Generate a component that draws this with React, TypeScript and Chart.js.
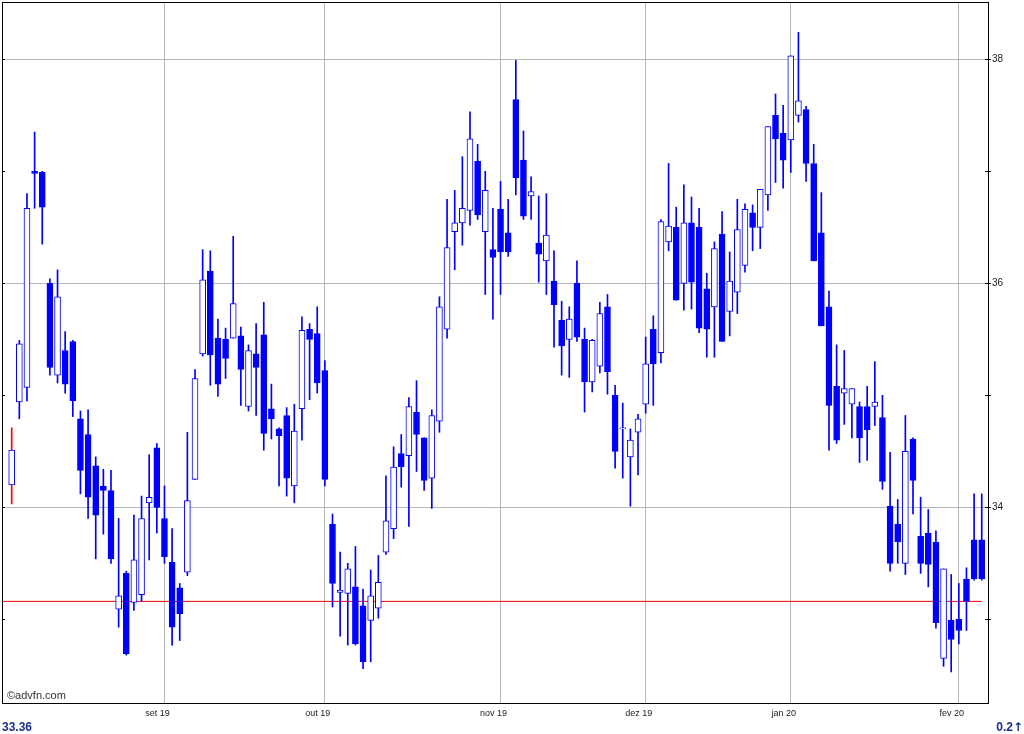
import React, { useEffect, useRef } from "react";
import { Chart, registerables } from "chart.js";

Chart.register(...registerables);

// ---- data -----------------------------------------------------------------
const dates = [
  "2019-08-05","2019-08-06","2019-08-07","2019-08-08","2019-08-09","2019-08-12","2019-08-13","2019-08-14","2019-08-15","2019-08-16",
  "2019-08-19","2019-08-20","2019-08-21","2019-08-22","2019-08-23","2019-08-26","2019-08-27","2019-08-28","2019-08-29","2019-08-30",
  "2019-09-02","2019-09-03","2019-09-04","2019-09-05","2019-09-06","2019-09-09","2019-09-10","2019-09-11","2019-09-12","2019-09-13",
  "2019-09-16","2019-09-17","2019-09-18","2019-09-19","2019-09-20","2019-09-23","2019-09-24","2019-09-25","2019-09-26","2019-09-27",
  "2019-09-30","2019-10-01","2019-10-02","2019-10-03","2019-10-04","2019-10-07","2019-10-08","2019-10-09","2019-10-10","2019-10-11",
  "2019-10-14","2019-10-15","2019-10-16","2019-10-17","2019-10-18","2019-10-21","2019-10-22","2019-10-23","2019-10-24","2019-10-25",
  "2019-10-28","2019-10-29","2019-10-30","2019-10-31","2019-11-01","2019-11-04","2019-11-05","2019-11-06","2019-11-07","2019-11-08",
  "2019-11-11","2019-11-12","2019-11-13","2019-11-14","2019-11-18","2019-11-19","2019-11-21","2019-11-22","2019-11-25","2019-11-26",
  "2019-11-27","2019-11-28","2019-11-29","2019-12-02","2019-12-03","2019-12-04","2019-12-05","2019-12-06","2019-12-09","2019-12-10",
  "2019-12-11","2019-12-12","2019-12-13","2019-12-16","2019-12-17","2019-12-18","2019-12-19","2019-12-20","2019-12-23","2019-12-26",
  "2019-12-27","2019-12-30","2020-01-02","2020-01-03","2020-01-06","2020-01-07","2020-01-08","2020-01-09","2020-01-10","2020-01-13",
  "2020-01-14","2020-01-15","2020-01-16","2020-01-17","2020-01-20","2020-01-21","2020-01-22","2020-01-23","2020-01-24","2020-01-27",
  "2020-01-28","2020-01-29","2020-01-30","2020-01-31","2020-02-03","2020-02-04","2020-02-05","2020-02-06",
];

const opens = [
  34.20,34.94,35.07,37.00,36.99,36.00,35.18,35.40,35.48,34.79,
  34.65,34.37,34.19,34.15,33.09,33.41,33.15,33.22,34.04,34.53,
  33.90,33.51,33.28,33.42,34.25,35.37,36.11,35.51,35.50,35.51,
  35.53,34.90,35.37,35.54,34.88,34.70,34.82,34.19,34.88,35.59,
  35.55,35.22,33.85,33.24,33.23,33.29,33.12,32.99,33.10,33.60,
  33.81,34.48,34.46,34.85,34.62,34.26,34.77,35.59,36.46,36.54,
  36.65,37.09,36.46,36.30,36.66,36.45,37.64,37.10,36.78,36.36,
  36.20,36.02,35.67,35.50,36.00,35.50,35.12,35.26,35.79,35.00,
  34.70,34.45,34.67,34.92,35.59,35.38,36.37,36.50,36.00,36.54,
  36.50,35.95,35.79,36.44,35.75,35.92,36.16,36.63,36.50,36.79,
  37.50,37.34,37.28,37.50,37.55,37.07,36.45,35.79,35.08,35.02,
  34.92,34.90,34.90,34.90,34.80,34.01,33.85,33.50,34.61,33.74,
  33.77,33.69,32.65,32.99,33.00,33.36,33.71,33.71,
];

const highs = [
  34.71,35.49,36.80,37.35,37.00,36.04,36.12,35.57,35.49,34.86,
  34.87,34.45,34.34,34.33,33.90,33.43,33.93,34.10,34.47,34.57,
  34.19,33.81,33.32,34.67,35.23,36.30,36.29,35.68,35.60,36.42,
  35.61,35.45,35.64,35.83,35.10,34.71,34.89,34.92,35.70,35.64,
  35.79,35.31,33.94,33.60,33.50,33.65,33.27,33.44,33.57,34.28,
  34.54,34.65,34.98,35.13,34.62,34.87,35.88,36.75,36.83,37.13,
  37.53,37.24,37.00,36.67,36.91,36.75,37.99,37.36,36.95,36.78,
  36.80,36.29,35.84,35.79,36.20,35.60,35.50,35.83,35.90,35.09,
  34.93,34.70,34.83,35.52,35.71,36.57,37.07,36.68,36.88,36.77,
  36.67,36.09,36.37,36.64,36.28,36.75,36.71,36.70,36.84,37.40,
  37.69,37.59,38.03,38.24,37.58,37.24,36.81,35.93,35.45,35.40,
  35.06,34.94,35.08,35.30,35.00,34.49,34.07,34.82,34.62,34.09,
  33.98,33.79,33.45,33.40,33.32,33.46,34.12,34.12,
];

const lows = [
  34.03,34.79,34.95,36.67,36.35,35.18,35.11,35.02,34.81,34.12,
  33.90,33.54,33.76,33.50,32.93,32.68,33.08,33.16,33.53,33.77,
  33.50,32.77,32.81,33.39,34.25,35.35,35.09,34.99,35.15,35.51,
  34.91,34.86,34.82,34.51,34.61,34.19,34.10,34.04,34.60,34.96,
  35.02,34.19,33.11,32.85,32.77,32.77,32.56,32.62,33.01,33.58,
  33.72,34.18,33.83,34.32,34.15,33.99,34.67,35.51,36.12,36.34,
  36.52,36.57,35.90,35.68,35.90,36.24,36.79,36.57,36.57,36.01,
  35.90,35.43,35.18,35.16,35.48,34.85,35.03,35.20,35.01,34.35,
  34.26,34.01,34.29,34.84,34.91,35.29,36.29,35.85,35.76,35.77,
  35.56,35.34,35.34,35.48,35.53,35.73,36.10,36.29,36.31,36.65,
  36.90,36.85,36.99,37.44,36.91,36.20,35.62,34.51,34.57,34.74,
  34.62,34.40,34.42,34.73,34.16,33.43,33.50,33.40,33.94,33.41,
  33.29,32.92,32.58,32.53,32.78,32.90,33.35,33.35,
];

const closes = [
  34.51,35.46,36.67,36.98,36.68,35.25,35.88,35.10,34.95,34.33,
  34.09,33.93,34.15,33.54,33.21,32.69,33.53,33.90,34.09,34.00,
  33.56,32.93,33.05,34.06,35.15,36.03,35.36,35.10,35.33,35.82,
  35.23,35.40,35.25,34.66,34.79,34.64,34.26,34.68,35.58,35.50,
  35.11,34.25,33.32,33.26,33.45,32.78,32.62,33.21,33.33,33.88,
  34.36,34.36,34.90,34.65,34.24,34.82,35.79,36.32,36.54,36.67,
  37.29,36.61,36.83,36.23,36.28,36.28,36.94,36.60,36.82,36.26,
  36.43,35.81,35.44,35.68,35.52,35.12,35.49,35.73,35.21,34.50,
  34.71,34.60,34.79,35.28,35.28,36.55,36.51,35.85,36.54,36.01,
  35.60,35.59,36.31,35.48,36.02,36.48,36.66,36.50,36.84,37.40,
  37.29,37.10,38.03,37.63,37.07,36.20,35.62,34.91,34.60,35.06,
  35.06,34.62,34.69,34.94,34.23,33.50,33.69,34.50,34.24,33.50,
  33.49,32.97,33.45,32.82,32.90,33.16,33.36,33.36,
];

const monthNames = ["jan","fev","mar","abr","mai","jun","jul","ago","set","out","nov","dez"];
const yTickValues = [33, 34, 35, 36, 37, 38];
const prevClose = 33.16;
const lastPrice = "33.36";
const changeText = "0.2";

// ---- styling --------------------------------------------------------------
const BLUE = "#0000ff";
const RED = "#ff0000";
const GRID = "#b3b8b8";
const TEXT_FONT = "'Liberation Sans', Arial, sans-serif";
const X_MIN = -1.27;
const X_MAX = 127.95;
const Y_MIN = 32.2438;
const Y_MAX = 38.5116;

// month ticks: first trading day of each new month
const monthTicks: { index: number; label: string }[] = [];
dates.forEach((d, i) => {
  if (i === 0) return;
  const m = d.slice(0, 7);
  if (m !== dates[i - 1].slice(0, 7)) {
    const mon = parseInt(d.slice(5, 7), 10);
    monthTicks.push({ index: i, label: monthNames[mon - 1] + " " + d.slice(2, 4) });
  }
});

export default function App() {
  const ref = useRef<HTMLCanvasElement | null>(null);

  useEffect(() => {
    if (!ref.current) return;
    const idx = dates.map((_, i) => i);
    const wickData = idx.map((i) => ({ x: i, y: [lows[i], highs[i]] }));
    const bodyData = idx.map((i) => ({
      x: i,
      y: [Math.min(opens[i], closes[i]), Math.max(opens[i], closes[i])],
    }));
    const bodyFill = idx.map((i) => (closes[i] >= opens[i] ? "#ffffff" : BLUE));
    const wickColors = idx.map((i) => (i === 0 ? RED : BLUE));

    const frame = {
      id: "frame",
      afterDraw(chart: any) {
        const { ctx, chartArea: a, scales } = chart;
        ctx.save();
        ctx.strokeStyle = "#000";
        ctx.lineWidth = 1;
        ctx.strokeRect(a.left + 0.5, a.top + 0.5, a.right - a.left - 1, a.bottom - a.top - 1);
        const ys = scales.y;
        ctx.beginPath();
        ys.ticks.forEach((t: any) => {
          const y = Math.round(ys.getPixelForValue(t.value)) + 0.5;
          ctx.moveTo(a.left, y);
          ctx.lineTo(a.left + 3, y);
          ctx.moveTo(a.right - 4, y);
          ctx.lineTo(a.right, y);
        });
        ctx.stroke();
        ctx.restore();
      },
    };

    const chart = new Chart(ref.current, {
      type: "bar",
      data: {
        datasets: [
          {
            type: "line",
            data: [
              { x: X_MIN, y: prevClose },
              { x: dates.length - 1, y: prevClose },
            ],
            borderColor: RED,
            borderWidth: 1,
            pointRadius: 0,
            order: 3,
          } as any,
          {
            type: "bar",
            data: wickData as any,
            backgroundColor: wickColors,
            borderWidth: 0,
            barThickness: 1,
            grouped: false,
            order: 2,
          },
          {
            type: "bar",
            data: bodyData as any,
            backgroundColor: bodyFill,
            borderColor: BLUE,
            borderWidth: 1,
            borderSkipped: false,
            barThickness: 6,
            grouped: false,
            order: 1,
          },
        ],
      },
      options: {
        animation: false,
        responsive: false,
        maintainAspectRatio: false,
        layout: { padding: { left: 2, top: 2, right: 0, bottom: 0 } },
        plugins: { legend: { display: false }, tooltip: { enabled: false } },
        scales: {
          x: {
            type: "linear",
            position: "bottom",
            offset: false,
            min: X_MIN,
            max: X_MAX,
            border: { display: false },
            grid: { color: GRID, drawTicks: false, lineWidth: 1, offset: false },
            afterBuildTicks: (s: any) => {
              s.ticks = monthTicks.map((t) => ({ value: t.index }));
            },
            afterFit: (s: any) => {
              s.height = 30;
              s.paddingLeft = 0;
              s.paddingRight = 0;
            },
            ticks: {
              autoSkip: false,
              maxRotation: 0,
              padding: 4,
              labelOffset: -7,
              color: "#222",
              font: { size: 9, family: TEXT_FONT },
              callback: (v: any) => {
                const t = monthTicks.find((m) => m.index === v);
                return t ? t.label : "";
              },
            },
          },
          y: {
            type: "linear",
            position: "right",
            min: Y_MIN,
            max: Y_MAX,
            border: { display: false },
            grid: {
              color: (c: any) => (c.tick && c.tick.value % 2 === 0 ? GRID : "rgba(0,0,0,0)"),
              tickColor: "#000",
              tickLength: 2,
              drawTicks: true,
            },
            afterBuildTicks: (s: any) => {
              s.ticks = yTickValues.map((v) => ({ value: v }));
            },
            afterFit: (s: any) => {
              s.width = 35;
              s.paddingTop = 0;
              s.paddingBottom = 0;
            },
            ticks: {
              padding: 1,
              color: "#222",
              font: { size: 10, family: TEXT_FONT },
              callback: (v: any) => (Number(v) % 2 === 0 ? String(v) : ""),
            },
          },
        },
      },
      plugins: [frame],
    });
    return () => chart.destroy();
  }, []);

  return (
    <div style={{ position: "absolute", left: 0, top: 0, width: 1024, height: 734, background: "#fff", overflow: "hidden" }}>
      <canvas ref={ref} width={1024} height={734} style={{ display: "block", width: 1024, height: 734 }} />
      <div style={{ position: "absolute", left: 7, top: 689, font: `11px ${TEXT_FONT}`, color: "#333", whiteSpace: "nowrap" }}>
        ©advfn.com
      </div>
      <div style={{ position: "absolute", left: 2, top: 720, font: `bold 12px ${TEXT_FONT}`, color: "#1a2f94", whiteSpace: "nowrap" }}>
        {lastPrice}
      </div>
      <div style={{ position: "absolute", right: 1, top: 720, font: `bold 12px ${TEXT_FONT}`, color: "#1a2f94", whiteSpace: "nowrap" }}>
        {changeText}
        <span style={{ fontFamily: "'DejaVu Sans', sans-serif", fontWeight: "bold" }}>↑</span>
      </div>
    </div>
  );
}
